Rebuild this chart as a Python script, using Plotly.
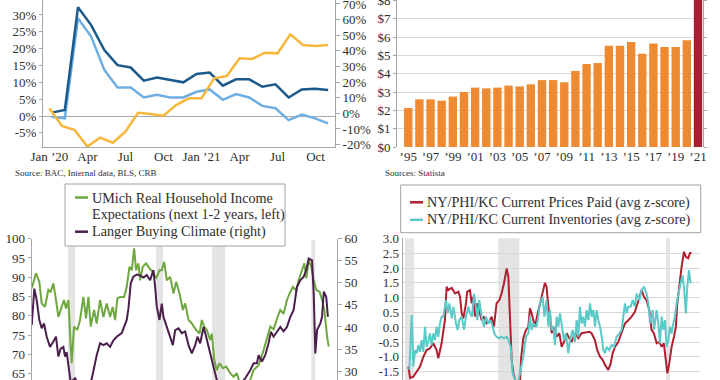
import plotly.graph_objects as go

W, H = 720, 380
FONT = "Liberation Serif"
TXT = "#2E2E2E"
AX = "#A6A6A6"
GRID = "#D9D9D9"
BAND = "#E4E4E4"


def fx(p):
    return p / W


def fy(p):
    return 1 - p / H


# ---------------- Panel 1 (top-left) ----------------
p1_tick_labels = ["Jan ’20", "Apr", "Jul", "Oct", "Jan ’21", "Apr", "Jul", "Oct"]
p1_dark_blue = [1.0, 1.8, 32.3, 27.0, 19.6, 15.1, 14.4, 10.5, 11.4, 10.7, 10.0,
                12.5, 12.9, 9.0, 10.9, 10.9, 8.7, 9.4, 5.5, 7.9, 8.1, 7.7]
p1_light_blue = [-0.2, -0.7, 29.0, 23.6, 13.7, 8.5, 8.5, 5.5, 6.3, 5.5, 5.5,
                 7.2, 7.9, 4.8, 6.5, 5.5, 3.0, 2.3, -1.2, 0.4, -0.7, -2.2]
p1_orange = [3.2, -8.1, -10.7, -21.3, -15.6, -18.8, -11.7, 0.4, -0.4, -1.5, 5.3,
             9.6, 9.6, 22.4, 23.9, 35.2, 34.8, 38.8, 38.4, 50.6, 43.7, 43.1, 43.7]
p1_left_ticks = [-5, 0, 5, 10, 15, 20, 25, 30]
p1_right_ticks = [-20, -10, 0, 10, 20, 30, 40, 50, 60, 70]

# ---------------- Panel 2 (top-right) ----------------
p2_years = list(range(1995, 2022))
p2_values = [2.13, 2.6, 2.6, 2.53, 2.75, 3.0, 3.24, 3.2, 3.24, 3.35, 3.31, 3.42,
             3.65, 3.65, 3.53, 4.15, 4.53, 4.58, 5.53, 5.53, 5.73, 5.09, 5.64,
             5.45, 5.45, 5.82, 8.6]
p2_tick_years = list(range(1995, 2022, 2))

# ---------------- Panel 3 (bottom-left) ----------------
p3_green_x = [1986.10, 1986.62, 1987.03, 1987.32, 1987.72, 1988.13, 1988.41, 1988.74,
              1989.06, 1989.35, 1989.75, 1990.04, 1990.28, 1990.57, 1990.77, 1990.97,
              1991.26, 1991.66, 1991.99, 1992.40, 1992.72, 1993.01, 1993.29, 1993.70,
              1994.02, 1994.43, 1994.84, 1995.24, 1995.65, 1995.97, 1996.26, 1996.54,
              1996.87, 1997.36, 1997.68, 1998.01, 1998.29, 1998.58, 1998.82, 1999.10,
              1999.31, 1999.63, 2000.04, 2000.45, 2000.85, 2001.26, 2001.67, 2001.95,
              2002.24, 2002.56, 2002.97, 2003.38, 2003.70, 2004.11, 2004.52, 2004.80,
              2005.21, 2005.61, 2006.14, 2006.55, 2006.83, 2007.12, 2007.44, 2007.85,
              2008.05, 2008.34, 2008.66, 2008.99, 2009.40, 2009.80, 2010.29, 2010.70,
              2011.10, 2011.51, 2012.32, 2013.14, 2013.75, 2014.36, 2015.17, 2015.58,
              2016.06, 2016.39, 2016.79, 2017.20, 2017.53, 2017.93, 2018.34, 2018.62,
              2019.03, 2019.32, 2019.56, 2019.85, 2020.13, 2020.46, 2020.78, 2021.19,
              2021.48, 2021.76, 2022.09, 2022.29]
p3_green_y = [87.1, 91.0, 88.8, 83.2, 82.3, 86.7, 86.2, 88.4, 84.1, 79.7, 82.3, 84.1,
              81.9, 84.1, 75.4, 67.7, 77.2, 76.3, 78.9, 84.9, 79.3, 84.9, 77.2, 81.5,
              78.0, 84.1, 79.7, 83.2, 79.7, 82.3, 78.9, 84.5, 84.9, 84.9, 87.5, 92.7,
              91.8, 97.5, 91.8, 93.6, 89.2, 92.7, 93.6, 92.3, 91.4, 89.7, 91.8, 91.8,
              94.0, 89.2, 90.1, 85.8, 88.8, 85.8, 81.5, 83.2, 78.9, 78.0, 76.3, 75.4,
              78.9, 77.2, 76.3, 73.7, 75.4, 68.5, 65.9, 67.7, 66.4, 66.8, 65.1, 64.2,
              65.1, 62.0, 61.0, 65.9, 67.2, 71.1, 77.2, 76.5, 79.7, 81.5, 80.5, 84.1,
              85.8, 87.5, 86.5, 89.2, 91.8, 93.6, 89.7, 94.4, 93.0, 89.2, 86.7, 86.2,
              84.1, 81.5, 74.6, 72.0]
p3_purple_x = [1986.10, 1986.42, 1986.71, 1987.03, 1987.32, 1987.60, 1987.93, 1988.33,
               1988.74, 1989.06, 1989.35, 1989.63, 1989.96, 1990.16, 1990.36, 1990.57,
               1990.85, 1991.38, 1991.99, 1992.80, 1993.41, 1994.02, 1994.43, 1994.84,
               1995.24, 1995.65, 1996.06, 1996.46, 1997.07, 1997.68, 1997.89, 1998.17,
               1998.49, 1998.90, 1999.31, 1999.72, 2000.12, 2000.53, 2000.93, 2001.14,
               2001.34, 2001.67, 2001.95, 2002.15, 2002.56, 2002.97, 2003.30, 2003.58,
               2003.99, 2004.39, 2004.80, 2005.21, 2005.61, 2006.02, 2006.30, 2006.63,
               2007.04, 2007.36, 2007.64, 2007.93, 2008.25, 2008.66, 2009.47, 2010.70,
               2012.12, 2012.73, 2013.14, 2013.54, 2013.75, 2014.15, 2014.56, 2014.96,
               2015.25, 2015.57, 2015.98, 2016.39, 2016.79, 2017.20, 2017.61, 2018.01,
               2018.42, 2018.83, 2019.24, 2019.56, 2019.85, 2020.26, 2020.46, 2020.66,
               2020.87, 2021.27, 2021.48, 2021.69, 2021.99, 2022.19]
p3_purple_y = [40.4, 48.7, 46.1, 41.6, 39.7, 40.8, 37.8, 35.5, 36.7, 37.8, 33.3, 35.1,
               35.5, 33.3, 34.3, 31.8, 27.5, 28.4, 26.5, 26.0, 28.2, 33.6, 36.3, 35.9,
               36.3, 35.5, 37.0, 37.8, 38.6, 41.6, 44.2, 49.9, 51.4, 51.9, 51.7, 51.2,
               51.8, 50.6, 52.9, 49.1, 44.6, 41.6, 45.3, 42.3, 40.0, 37.8, 35.9, 39.3,
               39.7, 38.6, 39.0, 35.9, 34.0, 35.9, 37.8, 36.3, 40.0, 37.8, 35.5, 33.3,
               31.0, 28.0, 25.5, 25.0, 28.4, 30.2, 31.8, 31.8, 33.6, 32.2, 33.6, 36.3,
               38.9, 37.8, 38.9, 40.0, 39.0, 40.0, 42.3, 43.8, 49.1, 50.6, 51.4, 52.9,
               55.5, 55.1, 47.6, 34.0, 39.3, 40.8, 42.3, 48.0, 46.8, 42.3]
p3_left_ticks = [65, 70, 75, 80, 85, 90, 95, 100]
p3_right_ticks = [30, 35, 40, 45, 50, 55, 60]
p3_recessions = [(1990.53, 1991.39), (2001.26, 2002.11), (2008.09, 2009.67), (2020.17, 2020.65)]

# ---------------- Panel 4 (bottom-right) ----------------
p4_red_x = [2001.41, 2001.53, 2001.77, 2002.01, 2002.25, 2002.49, 2002.73, 2002.97,
            2003.21, 2003.45, 2003.57, 2003.81, 2003.93, 2004.05, 2004.17, 2004.29,
            2004.54, 2004.78, 2005.02, 2005.14, 2005.26, 2005.38, 2005.57, 2005.66,
            2005.86, 2005.98, 2006.10, 2006.22, 2006.39, 2006.58, 2006.70, 2006.87,
            2007.06, 2007.26, 2007.42, 2007.59, 2007.78, 2007.98, 2008.14, 2008.31,
            2008.51, 2008.63, 2008.75, 2008.87, 2008.99, 2009.23, 2009.47, 2009.54,
            2009.71, 2009.90, 2010.07, 2010.19, 2010.31, 2010.43, 2010.55, 2010.72,
            2010.91, 2011.11, 2011.27, 2011.39, 2011.52, 2011.64, 2011.76, 2011.88,
            2012.12, 2012.31, 2012.48, 2012.65, 2012.84, 2013.03, 2013.20, 2013.44,
            2013.68, 2013.92, 2014.16, 2014.48, 2014.64, 2014.88, 2015.05, 2015.25,
            2015.44, 2015.61, 2015.85, 2016.02, 2016.16, 2016.33, 2016.57, 2016.81,
            2017.05, 2017.29, 2017.53, 2017.77, 2018.02, 2018.26, 2018.42, 2018.61,
            2018.81, 2018.97, 2019.14, 2019.34, 2019.53, 2019.70, 2019.86, 2020.01,
            2020.11, 2020.25, 2020.42, 2020.59, 2020.73, 2020.83, 2020.97, 2021.14,
            2021.31, 2021.45, 2021.62, 2021.74, 2021.86]
p4_red_y = [-1.33, -1.71, -1.67, -1.5, -1.33, -1.0, -0.77, -0.71, -0.54, -0.77, -1.05,
            -0.54, -0.15, 0.24, 1.37, 1.26, 1.33, 1.14, 1.2, 1.03, 0.47, 0.3, 0.81, 1.2,
            1.25, 0.81, 1.03, 0.36, 0.81, 0.47, 0.24, 0.36, 0.13, 0.18, 0.36, 0.02, 0.81,
            0.92, 1.14, 1.48, 1.99, 1.70, 0.02, -1.1, -1.55, -1.95, -1.9, -1.1, -0.37,
            -0.09, 0.0, 0.64, 0.47, 0.24, 0.02, 0.41, 0.81, 1.2, 1.5, 1.37, 0.69, 0.36,
            -0.2, 0.02, -0.32, -0.2, -0.66, -0.49, -0.2, -0.37, -0.49, -0.2, -0.37, -0.2,
            -0.18, -0.15, -0.2, -0.43, -0.77, -0.99, -1.1, -1.27, -1.44, -1.22, -0.88,
            -0.66, -0.49, -0.2, 0.13, 0.24, 0.36, 0.52, 0.92, 1.26, 1.03, 0.92, 0.58,
            -0.09, -0.2, -0.54, -0.49, -0.66, -0.54, -1.1, -1.55, -1.22, -0.66, -0.32,
            0.02, 0.81, 1.48, 2.04, 2.55, 2.38, 2.33, 2.5, 2.52]
p4_cyan_x = [2001.48, 2001.65, 2001.77, 2001.89, 2002.01, 2002.13, 2002.25, 2002.37,
             2002.49, 2002.61, 2002.73, 2002.85, 2002.97, 2003.09, 2003.21, 2003.33,
             2003.45, 2003.57, 2003.69, 2003.81, 2003.93, 2004.13, 2004.25, 2004.37,
             2004.54, 2004.66, 2004.85, 2004.97, 2005.09, 2005.26, 2005.43, 2005.57,
             2005.74, 2005.86, 2006.00, 2006.15, 2006.29, 2006.39, 2006.53, 2006.70,
             2006.87, 2007.01, 2007.18, 2007.35, 2007.50, 2007.62, 2007.78, 2007.98,
             2008.14, 2008.31, 2008.51, 2008.63, 2008.80, 2008.94, 2009.11, 2009.28,
             2009.47, 2009.71, 2009.90, 2010.07, 2010.19, 2010.31, 2010.43, 2010.67,
             2010.79, 2010.91, 2011.11, 2011.23, 2011.39, 2011.52, 2011.64, 2011.76,
             2011.88, 2012.00, 2012.12, 2012.24, 2012.36, 2012.48, 2012.65, 2012.79,
             2012.96, 2013.08, 2013.27, 2013.44, 2013.56, 2013.68, 2013.80, 2013.92,
             2014.04, 2014.16, 2014.28, 2014.41, 2014.53, 2014.65, 2014.77, 2014.89,
             2015.01, 2015.13, 2015.25, 2015.37, 2015.49, 2015.61, 2015.73, 2015.92,
             2016.09, 2016.26, 2016.45, 2016.64, 2016.81, 2016.93, 2017.05, 2017.17,
             2017.29, 2017.46, 2017.61, 2017.77, 2017.89, 2018.09, 2018.26, 2018.42,
             2018.61, 2018.74, 2018.86, 2019.05, 2019.15, 2019.34, 2019.46, 2019.58,
             2019.70, 2019.82, 2019.94, 2020.06, 2020.18, 2020.30, 2020.42, 2020.54,
             2020.66, 2020.78, 2020.90, 2021.07, 2021.21, 2021.33, 2021.45, 2021.55,
             2021.67, 2021.79]
p4_cyan_y = [-1.44, 0.41, -1.33, -0.77, -0.88, -0.6, -0.83, -0.43, -0.83, 0.02, -0.66,
             -0.49, -0.21, -0.6, -0.21, -0.43, 0.02, -0.32, 0.13, 0.36, 0.36, 0.92, 0.47,
             0.81, 0.3, 0.69, 0.13, -0.09, 0.24, 0.36, -0.09, 0.36, 0.69, 0.47, 0.36,
             1.14, 0.69, 0.24, 0.92, 0.36, 0.02, 0.36, 0.13, 0.24, 0.02, -0.21, -0.32,
             -0.37, -0.32, -0.37, -0.32, -0.43, -0.66, -1.55, -1.78, -1.95, -1.55, -0.99,
             -0.32, -0.21, 0.36, -0.09, 0.13, 0.02, 0.36, 0.81, 1.03, 0.36, 0.92, 0.02,
             0.58, -0.09, 0.02, -0.6, 0.36, 0.02, 0.47, 0.02, -0.43, -0.21, -0.88, -0.43,
             -0.09, -0.49, 0.24, -0.32, 0.69, 0.13, 0.36, 0.02, 0.58, 0.24, 0.81, 0.36,
             0.58, 0.02, 0.58, 0.24, 0.02, -0.32, -0.77, -0.88, -0.66, -0.77, -0.6, -0.66,
             -0.32, -0.21, -0.09, 0.36, 0.81, 0.47, 0.69, 0.69, 0.92, 0.69, 1.14, 0.92,
             1.26, 1.37, 1.14, 0.81, 0.13, 0.58, -0.09, 0.58, 0.13, -0.54, 0.36, -0.09,
             0.24, -0.66, -0.43, 0.02, -0.21, 0.13, 0.36, 0.81, 1.14, 1.48, 1.76, 1.26,
             0.47, 1.37, 1.93, 1.48]
p4_ticks = [-1.5, -1.0, -0.5, 0.0, 0.5, 1.0, 1.5, 2.0, 2.5, 3.0]
p4_recessions = [(2001.17, 2001.83), (2007.9, 2009.42), (2020.01, 2020.3)]

# ---------------- colours ----------------
C_DBLUE = "#1B5A8A"
C_LBLUE = "#6FAEE2"
C_ORANGE_LINE = "#F6B73C"
C_BAR = "#EE8A31"
C_BAR_LAST = "#A91D32"
C_GREEN = "#6EA83E"
C_PURPLE = "#4A1F4C"
C_RED = "#B01F30"
C_CYAN = "#5CC9C9"

fig = go.Figure()

# Panel 1 traces
fig.add_trace(go.Scatter(x=list(range(len(p1_light_blue))), y=p1_light_blue, xaxis="x", yaxis="y",
                         mode="lines", line=dict(color=C_LBLUE, width=2.5)))
fig.add_trace(go.Scatter(x=list(range(len(p1_dark_blue))), y=p1_dark_blue, xaxis="x", yaxis="y",
                         mode="lines", line=dict(color=C_DBLUE, width=2.5)))
fig.add_trace(go.Scatter(x=list(range(len(p1_orange))), y=p1_orange, xaxis="x2", yaxis="y2",
                         mode="lines", line=dict(color=C_ORANGE_LINE, width=2.5)))

# Panel 2 bars
fig.add_trace(go.Bar(x=p2_years, y=p2_values, xaxis="x3", yaxis="y3", width=0.75,
                     marker=dict(color=[C_BAR] * (len(p2_values) - 1) + [C_BAR_LAST], line=dict(width=0))))

# Panel 3 traces
fig.add_trace(go.Scatter(x=p3_green_x, y=p3_green_y, xaxis="x4", yaxis="y4", mode="lines",
                         line=dict(color=C_GREEN, width=2)))
fig.add_trace(go.Scatter(x=p3_purple_x, y=p3_purple_y, xaxis="x4", yaxis="y5", mode="lines",
                         line=dict(color=C_PURPLE, width=2)))

# Panel 4 traces
fig.add_trace(go.Scatter(x=p4_red_x, y=p4_red_y, xaxis="x5", yaxis="y6", mode="lines",
                         line=dict(color=C_RED, width=2)))
fig.add_trace(go.Scatter(x=p4_cyan_x, y=p4_cyan_y, xaxis="x5", yaxis="y6", mode="lines",
                         line=dict(color=C_CYAN, width=2)))

tf = dict(family=FONT, size=13, color=TXT)
top_dom = [fy(147), 1]
NA = dict(automargin=False, ticklabeloverflow="allow")

layout = dict(
    width=W, height=H, margin=dict(l=0, r=0, t=0, b=0, autoexpand=False),
    paper_bgcolor="white", plot_bgcolor="rgba(0,0,0,0)", showlegend=False,
    font=dict(family=FONT, color=TXT), hovermode=False,
    # panel 1 (blue lines on x/y, orange on x2/y2)
    xaxis=dict(domain=[fx(43), fx(335)], anchor="y", range=[-0.658, 21.52],
               showticklabels=False, showline=True, linecolor=AX, ticks="",
               showgrid=False, zeroline=False, **NA),
    xaxis2=dict(overlaying="x", anchor="y", side="bottom", range=[-0.5, 22.53],
                tickvals=list(range(0, 22, 3)), ticktext=p1_tick_labels, tickfont=tf,
                showline=False, ticks="", showgrid=False, zeroline=False, **NA),
    yaxis=dict(domain=top_dom, anchor="x", range=[-9.2, 34.45], tickvals=p1_left_ticks,
               ticktext=[f"{v}%" for v in p1_left_ticks], tickfont=tf,
               showline=True, linecolor=AX, ticks="outside", ticklen=3, tickcolor=AX,
               showgrid=False, zeroline=True, zerolinecolor="#A8A8A8", zerolinewidth=1, **NA),
    yaxis2=dict(overlaying="y", side="right", anchor="x", range=[-21.55, 72.55],
                tickvals=p1_right_ticks, ticktext=[f"{v}%" for v in p1_right_ticks], tickfont=tf,
                showline=True, linecolor=AX, ticks="outside", ticklen=4, tickcolor=AX,
                showgrid=False, zeroline=False, **NA),
    # panel 2
    xaxis3=dict(domain=[fx(397), fx(703)], anchor="y3", range=[1993.99, 2021.45],
                tickvals=p2_tick_years, ticktext=["’" + str(y)[2:] for y in p2_tick_years],
                tickfont=tf, showline=False, ticks="", showgrid=False, zeroline=False, **NA),
    yaxis3=dict(domain=top_dom, anchor="x3", range=[0, 8.02], tickvals=list(range(0, 9)),
                ticktext=[f"${v}" for v in range(0, 9)], tickfont=tf,
                showline=True, linecolor=AX, mirror="ticks", ticks="outside", ticklen=3,
                tickcolor=AX, showgrid=True, gridcolor=GRID, zeroline=False, **NA),
    # panel 3
    xaxis4=dict(domain=[fx(31.7), fx(337)], anchor="y4", range=[1986.1, 2023.3],
                showticklabels=False, ticks="", showgrid=False, zeroline=False, showline=False, **NA),
    yaxis4=dict(domain=[0, fy(238.5)], anchor="x4", range=[63.34, 100.05], tickvals=p3_left_ticks,
                tickfont=tf, showline=True, linecolor=AX, ticks="outside", ticklen=3, tickcolor=AX,
                showgrid=False, zeroline=False, **NA),
    yaxis5=dict(overlaying="y4", side="right", anchor="x4", range=[27.99, 60.05],
                tickvals=p3_right_ticks, tickfont=tf, showline=True, linecolor=AX,
                ticks="outside", ticklen=4, tickcolor=AX, showgrid=False, zeroline=False, **NA),
    # panel 4
    xaxis5=dict(domain=[fx(402.7), fx(700)], anchor="y6", range=[2001.0, 2022.47],
                showticklabels=False, ticks="", showgrid=False, zeroline=False, showline=False, **NA),
    yaxis6=dict(domain=[0, fy(238.3)], anchor="x5", range=[-1.78, 3.005], tickvals=p4_ticks,
                ticktext=[f"{v:.1f}" for v in p4_ticks], tickfont=tf, showline=True, linecolor=AX,
                ticks="", showgrid=True, gridcolor=GRID, zeroline=False, **NA),
)
fig.update_layout(**layout)

shapes = []
for a, b in p3_recessions:
    shapes.append(dict(type="rect", xref="x4", yref="y4 domain", x0=a, x1=b, y0=0, y1=0.99,
                       fillcolor=BAND, line=dict(width=0), layer="below"))
for a, b in p4_recessions:
    shapes.append(dict(type="rect", xref="x5", yref="y6 domain", x0=a, x1=b, y0=0, y1=1,
                       fillcolor=BAND, line=dict(width=0), layer="below"))

# legend boxes (drawn manually)
shapes.append(dict(type="rect", xref="paper", yref="paper", x0=fx(65), x1=fx(285), y0=fy(246), y1=fy(184),
                   line=dict(color="#A0A0A0", width=1), fillcolor="white", layer="above"))
shapes.append(dict(type="rect", xref="paper", yref="paper", x0=fx(400.7), x1=fx(700.7), y0=fy(232.7),
                   y1=fy(185), line=dict(color="#A0A0A0", width=1), fillcolor="white", layer="above"))
legend_items = [
    (75, 88, 197.5, C_GREEN), (75, 88, 231.7, C_PURPLE),
    (410, 423, 202.3, C_RED), (410, 423, 219.8, C_CYAN),
]
for x0, x1, yy, c in legend_items:
    shapes.append(dict(type="line", xref="paper", yref="paper", x0=fx(x0), x1=fx(x1), y0=fy(yy), y1=fy(yy),
                       line=dict(color=c, width=2.5), layer="above"))

legend_texts = [
    (90, 197.5, "UMich Real Household Income"),
    (90, 214.5, "Expectations (next 1-2 years, left)"),
    (90, 231.7, "Langer Buying Climate (right)"),
    (425, 202.3, "NY/PHI/KC Current Prices Paid (avg z-score)"),
    (425, 219.8, "NY/PHI/KC Current Inventories (avg z-score)"),
]
annotations = []
for x, y, t in legend_texts:
    annotations.append(dict(xref="paper", yref="paper", x=fx(x), y=fy(y), text=t, showarrow=False,
                            xanchor="left", yanchor="middle", font=dict(family=FONT, size=14.2, color=TXT)))
annotations.append(dict(xref="paper", yref="paper", x=fx(13), y=fy(173), text="Source: BAC, Internal data, BLS, CRB",
                        showarrow=False, xanchor="left", yanchor="middle", font=dict(family=FONT, size=9, color=TXT)))
annotations.append(dict(xref="paper", yref="paper", x=fx(383), y=fy(173), text="Sources: Statista",
                        showarrow=False, xanchor="left", yanchor="middle", font=dict(family=FONT, size=9, color=TXT)))

fig.update_layout(shapes=shapes, annotations=annotations)
fig.write_html("out.html", config={"displayModeBar": False, "staticPlot": True},
               post_script="document.body.style.margin='0';document.body.style.padding='0';")
